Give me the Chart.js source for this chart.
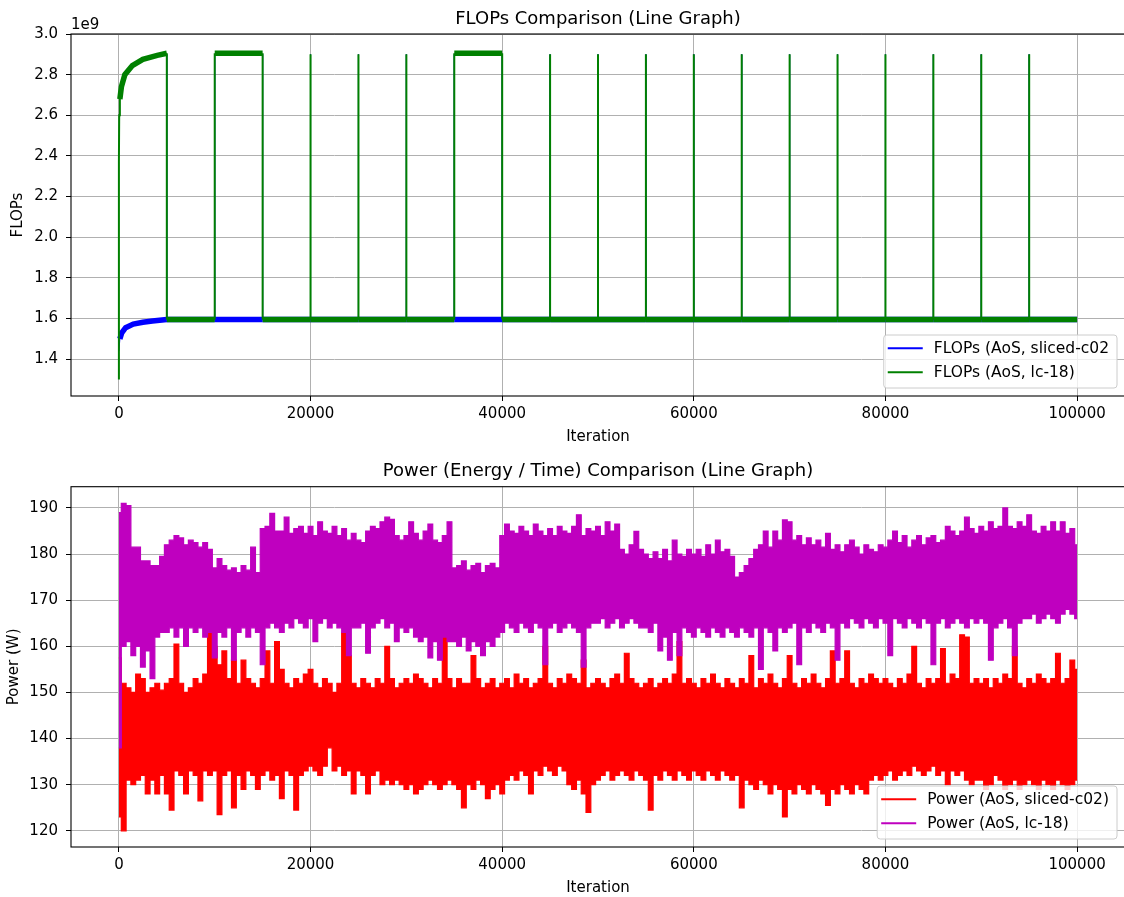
<!DOCTYPE html>
<html>
<head>
<meta charset="utf-8">
<title>FLOPs and Power per Iteration</title>
<script src="https://cdn.jsdelivr.net/npm/chart.js@4.4.1/dist/chart.umd.min.js"></script>
<style>
  html, body { margin: 0; padding: 0; background: #fff; overflow: hidden; }
  canvas { position: absolute; left: 0; display: block; }
  #flopsChart { top: 0; }
  #powerChart { top: 448px; }
</style>
</head>
<body>
<canvas id="flopsChart" width="1126" height="448"></canvas>
<canvas id="powerChart" width="1126" height="449"></canvas>
<script>
// ---------- tick labels ----------
const iterationTicks = [0, 20000, 40000, 60000, 80000, 100000];
const flopsTicks = [1.4e9, 1.6e9, 1.8e9, 2.0e9, 2.2e9, 2.4e9, 2.6e9, 2.8e9, 3.0e9];
const powerTicks = [120, 130, 140, 150, 160, 170, 180, 190];

// ---------- FLOPs ----------
// warm-up at the start of each run
const slicedWarmupIter  = [0, 100, 300, 700, 1500, 2500, 3500, 5000];
const slicedWarmupFlops = [1.44e9, 1.50e9, 1.53e9, 1.555e9, 1.573e9, 1.582e9, 1.588e9, 1.595e9];
const lcWarmupIter  = [0, 0, 30, 100, 260, 620, 1400, 2500, 4000, 5000];
const lcWarmupFlops = [1.30e9, 2.37e9, 2.60e9, 2.68e9, 2.74e9, 2.80e9, 2.845e9, 2.875e9, 2.895e9, 2.905e9];

// steady level, the lc-18 plateaus and the single-iteration bursts
const flopsBaseline = 1.595e9;
const flopsPlateau = 2.905e9;
const flopsBurst = 2.90e9;
const lcPlateauRanges = [[10000, 15000], [35000, 40000]];
const lcBurstIter = [20000, 25000, 30000, 45000, 50000, 55000, 60000, 65000, 70000,
                     75000, 80000, 85000, 90000, 95000];
const slicedBurstIter = [5000, 10000, 15000, 20000, 25000, 30000, 35000, 40000, 45000, 50000,
                         55000, 60000, 65000, 70000, 75000, 80000, 85000, 90000, 95000];
const lastIteration = 100000;

// ---------- Power (W), upper / lower envelope every 500 iterations ----------
const powerIter = Array.from({ length: 201 }, (_, i) => i * 500);

const lcPowerHigh = [
  189, 191, 190.5, 181.5, 181.5, 178.5, 178.5, 177.5, 177.5, 179.5,
  182, 183, 184, 183.5, 182, 183, 182.5, 181.5, 182.5, 181,
  177, 179, 177.5, 176.5, 177, 176, 177.5, 176.5, 181.5, 176,
  185.5, 186, 188.8, 185, 185, 188, 184.5, 185.5, 186, 184.5,
  186, 184, 187, 185, 184.5, 186, 184, 185.5, 183, 184.5,
  183, 182.5, 185, 186, 185.5, 187, 188, 187.5, 184, 183,
  184, 187, 184.5, 183, 185, 186.5, 183, 182.5, 184, 187,
  177, 177.5, 178.5, 176.5, 177.5, 178, 176, 177.5, 178, 177,
  184, 186.5, 185, 184.5, 186, 185, 184, 186.5, 185, 184,
  185.5, 184, 186, 185, 184.5, 186, 188.5, 184, 185.5, 185,
  186, 184, 187, 185, 186.5, 181, 180, 182, 184.9, 181,
  180, 179, 180.5, 179, 181, 178.5, 183, 180, 179.5, 181,
  180, 181, 179.5, 182, 180, 183, 180.5, 181, 179.5, 175,
  176, 177.5, 179, 181, 182, 185, 181.5, 185, 183, 187.4,
  187, 183, 184, 182, 183.5, 182, 183, 181.5, 184.5, 181,
  182, 180.5, 182, 183, 181.5, 180, 182, 181, 180.5, 182,
  181.5, 183, 185, 182.5, 184, 181.5, 183, 184, 182, 183.5,
  184, 182.5, 183, 186, 185, 184, 185, 188, 185.5, 184.5,
  186, 185, 187, 185.5, 186, 190, 186, 185.5, 187, 186,
  188.5, 185, 184.5, 186, 185, 187, 185, 187, 184.5, 185.5, 182
];
const lcPowerLow = [
  138, 160, 161, 158, 160, 155.5, 159, 153, 162, 163,
  163, 164, 162, 164, 160, 164, 163, 164, 162, 163,
  157.5, 163, 162, 164, 157, 163, 164, 162, 164, 163,
  156, 164, 165, 164, 163, 165, 164, 166, 165, 164,
  166, 161, 165, 166, 164, 165, 164, 163, 158, 164,
  164, 165, 158.5, 164, 165, 166, 164, 165, 161, 164,
  163, 164, 162, 161, 162, 157.5, 161, 157, 162, 161,
  161, 160, 162, 159, 161, 160, 158, 161, 160, 162,
  163, 165, 164, 163, 165, 164, 163, 165, 164, 156,
  164, 165, 163, 164, 165, 164, 163, 155.5, 164, 165,
  165, 166, 164, 165, 166, 164, 165, 166, 165, 164,
  164, 163, 165, 159, 162, 157, 163, 158, 164, 163,
  162, 164, 163, 162, 164, 163, 162, 164, 163, 162,
  164, 163, 162, 164, 155, 164, 163, 159, 164, 163,
  164, 165, 156, 164, 163, 165, 164, 163, 165, 164,
  157, 165, 164, 166, 165, 164, 166, 165, 164, 166,
  165, 158, 166, 165, 164, 166, 165, 164, 166, 165,
  156, 165, 166, 164, 165, 166, 165, 164, 166, 165,
  166, 165, 157, 164, 165, 166, 164, 158, 165, 166,
  166, 167, 165, 166, 167, 166, 165, 167, 168, 167, 166
];
const slicedPowerHigh = [
  157.5, 152, 151, 150, 154, 153, 150, 151, 152, 150.5,
  152, 153, 160.5, 152, 150, 151, 153, 152, 154, 163,
  160, 156, 159, 153, 157, 152, 157, 153, 152, 151,
  153, 159, 152, 161, 155, 152, 151, 153, 152, 154,
  155, 152, 151, 153, 152, 150, 152, 163, 158, 152,
  151, 153, 152, 151, 153, 152, 160, 153, 151, 152,
  153, 152, 154, 153, 152, 151, 153, 152, 163.5, 153,
  151, 153, 152, 152, 158, 153, 151, 152, 153, 151,
  152, 153, 151, 154, 152, 153, 151, 152, 153, 160,
  152, 151, 153, 152, 154, 153, 152, 157, 151, 152,
  153, 152, 151, 153, 154, 152, 158.5, 153, 152, 151,
  152, 153, 151, 152, 153, 152, 154, 161, 152, 153,
  152, 151, 153, 152, 154, 152, 151, 153, 152, 151,
  153, 152, 158, 151, 153, 152, 154, 152, 151, 153,
  158, 152, 151, 153, 152, 154, 152, 151, 153, 159,
  152, 153, 159, 152, 151, 153, 152, 154, 153, 152,
  153, 152, 151, 153, 152, 154, 160, 152, 151, 153,
  152, 153, 159.5, 152, 154, 153, 162.5, 162, 152, 153,
  152, 153, 151, 153, 152, 154, 153, 160, 152, 151,
  153, 152, 154, 153, 152, 153, 158.5, 152, 153, 157, 155
];
const slicedPowerLow = [
  123, 120, 131, 130, 131, 132, 128, 131, 128, 132,
  128, 124.5, 133, 132, 128, 133, 132, 126.5, 133, 132,
  133, 123.5, 132, 133, 125, 132, 129, 133, 132, 129,
  132, 133, 131, 132, 127, 133, 132, 124.5, 132, 133,
  134, 133, 132, 134, 138, 133, 134, 132, 133, 128,
  133, 132, 128, 132, 133, 130, 131, 130, 131, 130,
  129, 130, 128, 129, 130, 131, 130, 129, 130, 131,
  130, 129, 125, 130, 129, 131, 130, 127, 129, 130,
  128, 131, 132, 131, 133, 132, 128, 133, 132, 134,
  133, 132, 134, 133, 130, 129, 131, 128, 124, 130,
  131, 132, 133, 131, 132, 133, 132, 131, 133, 132,
  131, 124.5, 132, 131, 133, 132, 131, 133, 132, 131,
  133, 132, 131, 133, 132, 131, 133, 132, 131, 132,
  125, 131, 130, 129, 131, 130, 128, 130, 129, 123,
  129, 128, 130, 129, 128, 130, 129, 128, 125.5, 129,
  128, 130, 129, 128, 130, 129, 128, 131, 132, 131,
  132, 133, 131, 132, 133, 132, 134, 133, 132, 133,
  134, 132, 133, 130, 133, 132, 133, 131, 130, 131,
  131, 129, 130, 132, 131, 129, 130, 131, 129, 130,
  131, 130, 129, 131, 130, 129, 131, 130, 129, 130, 131
];

const BLUE = '#0000ff', GREEN = '#008000', RED = '#ff0000', MAGENTA = '#bf00bf';

Chart.defaults.font.family = '"DejaVu Sans", sans-serif';
Chart.defaults.font.size = 15;
Chart.defaults.color = '#000';

// line points for a FLOPs run: warm-up, then baseline with plateaus and bursts
function flopsPoints(warmIter, warmVals, plateaus, bursts) {
  const pts = warmIter.map((x, i) => ({ x, y: warmVals[i] }));
  const last = pts[pts.length - 1];
  if (last.y !== flopsBaseline) pts.push({ x: last.x, y: flopsBaseline });
  const events = [];
  plateaus.forEach(([a, b]) => events.push({ at: a, pts: [[a, flopsBaseline], [a, flopsPlateau], [b, flopsPlateau], [b, flopsBaseline]] }));
  bursts.forEach(b => events.push({ at: b, pts: [[b, flopsBaseline], [b, flopsBurst], [b, flopsBaseline]] }));
  events.sort((p, q) => p.at - q.at);
  events.forEach(e => e.pts.forEach(([x, y]) => pts.push({ x, y })));
  pts.push({ x: lastIteration, y: flopsBaseline });
  return pts;
}

const powerPoints = vals => vals.map((y, i) => ({ x: powerIter[i], y }));

const gridStyle = { color: '#b0b0b0', lineWidth: 1, tickColor: '#000', tickLength: 5, tickWidth: 1 };

function makeScales(yMin, yMax, yTicks, yFormat, xAxisHeight) {
  return {
    x: {
      type: 'linear', min: -5000, max: 105000,
      afterBuildTicks: axis => { axis.ticks = iterationTicks.map(value => ({ value })); },
      afterFit: axis => { axis.height = xAxisHeight; },
      ticks: { padding: 4, maxRotation: 0, autoSkip: false, callback: v => String(v) },
      grid: gridStyle,
      border: { display: false }
    },
    y: {
      type: 'linear', min: yMin, max: yMax,
      afterBuildTicks: axis => { axis.ticks = yTicks.map(value => ({ value })); },
      afterFit: axis => { axis.width = 71; },
      ticks: { padding: 8, autoSkip: false, callback: yFormat },
      grid: gridStyle,
      border: { display: false }
    }
  };
}

// axes frame, titles, axis labels and the legend box
function panelDecor(cfg) {
  return {
    id: 'panelDecor',
    afterDatasetsDraw(chart) {
      const { ctx, chartArea: a } = chart;
      ctx.save();
      ctx.strokeStyle = '#000';
      ctx.lineWidth = 1.1;
      ctx.strokeRect(a.left, a.top, a.right - a.left, a.bottom - a.top);
      ctx.restore();
    },
    afterDraw(chart) {
      const { ctx, chartArea: a } = chart;
      const cx = (a.left + a.right) / 2;
      ctx.save();
      ctx.fillStyle = '#000';
      ctx.textBaseline = 'alphabetic';

      ctx.font = '18px "DejaVu Sans"';
      ctx.textAlign = 'center';
      ctx.fillText(cfg.title, cx, a.top - 10.5);

      ctx.font = '15px "DejaVu Sans"';
      ctx.fillText('Iteration', cx, a.bottom + 44.5);

      if (cfg.offsetText) {
        ctx.textAlign = 'left';
        ctx.fillText(cfg.offsetText, a.left, a.top - 5.5);
      }

      ctx.save();
      ctx.translate(cfg.yLabelX, (a.top + a.bottom) / 2);
      ctx.rotate(-Math.PI / 2);
      ctx.textAlign = 'center';
      ctx.textBaseline = 'middle';
      ctx.fillText(cfg.yLabel, 0, 0);
      ctx.restore();

      // legend, lower right
      ctx.font = '15.5px "DejaVu Sans"';
      const items = cfg.legend;
      const textW = Math.max(...items.map(it => ctx.measureText(it.label).width));
      const boxR = a.right - 8, boxB = a.bottom - 8;
      const boxW = 4 + 35 + 11 + textW + 8, boxH = 53;
      const boxL = boxR - boxW, boxT = boxB - boxH;
      ctx.beginPath();
      ctx.roundRect(boxL, boxT, boxW, boxH, 3);
      ctx.fillStyle = 'rgba(255,255,255,0.8)';
      ctx.fill();
      ctx.strokeStyle = '#cccccc';
      ctx.lineWidth = 1;
      ctx.stroke();
      items.forEach((it, i) => {
        const y = boxT + 13.3 + i * 24;
        ctx.strokeStyle = it.color;
        ctx.lineWidth = 2;
        ctx.beginPath();
        ctx.moveTo(boxL + 4, y);
        ctx.lineTo(boxL + 39, y);
        ctx.stroke();
        ctx.fillStyle = '#000';
        ctx.textAlign = 'left';
        ctx.textBaseline = 'middle';
        ctx.fillText(it.label, boxL + 50, y + 1);
      });
      ctx.restore();
    }
  };
}

// thin vertical jumps, thick (noisy) horizontal stretches
const segmentWidths = (vertical, flat) => ({
  borderWidth: c => Math.abs(c.p1.x - c.p0.x) < 1 ? vertical : flat
});

new Chart(document.getElementById('flopsChart'), {
  type: 'line',
  data: {
    datasets: [
      {
        label: 'FLOPs (AoS, lc-18)',
        data: flopsPoints(lcWarmupIter, lcWarmupFlops, lcPlateauRanges, lcBurstIter),
        borderColor: GREEN, borderWidth: 2, segment: segmentWidths(2, 5.5), fill: false
      },
      {
        label: 'FLOPs (AoS, sliced-c02',
        data: flopsPoints(slicedWarmupIter, slicedWarmupFlops, [], slicedBurstIter),
        borderColor: BLUE, borderWidth: 2, segment: segmentWidths(1, 5.5), fill: false
      }
    ]
  },
  options: {
    responsive: false,
    animation: false,
    events: [],
    layout: { padding: { top: 34, right: 1, left: 0, bottom: 0 } },
    elements: { point: { radius: 0 }, line: { tension: 0 } },
    scales: makeScales(1.219e9, 3.0e9, flopsTicks, v => (v / 1e9).toFixed(1), 52),
    plugins: { legend: { display: false }, tooltip: { enabled: false } }
  },
  plugins: [panelDecor({
    title: 'FLOPs Comparison (Line Graph)',
    yLabel: 'FLOPs',
    yLabelX: 18,
    offsetText: '1e9',
    legend: [
      { label: 'FLOPs (AoS, sliced-c02', color: BLUE },
      { label: 'FLOPs (AoS, lc-18)', color: GREEN }
    ]
  })]
});

new Chart(document.getElementById('powerChart'), {
  type: 'line',
  data: {
    datasets: [
      {
        label: 'Power (AoS, lc-18)',
        data: powerPoints(lcPowerHigh),
        borderColor: MAGENTA, backgroundColor: MAGENTA, borderWidth: 1.2,
        stepped: 'middle', fill: '+1'
      },
      {
        label: 'Power (AoS, lc-18) low',
        data: powerPoints(lcPowerLow),
        borderColor: MAGENTA, borderWidth: 1.2, stepped: 'middle', fill: false
      },
      {
        label: 'Power (AoS, sliced-c02)',
        data: powerPoints(slicedPowerHigh),
        borderColor: RED, backgroundColor: RED, borderWidth: 1.2,
        stepped: 'middle', fill: '+1'
      },
      {
        label: 'Power (AoS, sliced-c02) low',
        data: powerPoints(slicedPowerLow),
        borderColor: RED, borderWidth: 1.2, stepped: 'middle', fill: false
      }
    ]
  },
  options: {
    responsive: false,
    animation: false,
    events: [],
    layout: { padding: { top: 38.7, right: 1, left: 0, bottom: 0 } },
    elements: { point: { radius: 0 }, line: { tension: 0 } },
    scales: makeScales(116.5, 194.6, powerTicks, v => String(v), 50),
    plugins: { legend: { display: false }, tooltip: { enabled: false } }
  },
  plugins: [panelDecor({
    title: 'Power (Energy / Time) Comparison (Line Graph)',
    yLabel: 'Power (W)',
    yLabelX: 14,
    legend: [
      { label: 'Power (AoS, sliced-c02)', color: RED },
      { label: 'Power (AoS, lc-18)', color: MAGENTA }
    ]
  })]
});
</script>
</body>
</html>
